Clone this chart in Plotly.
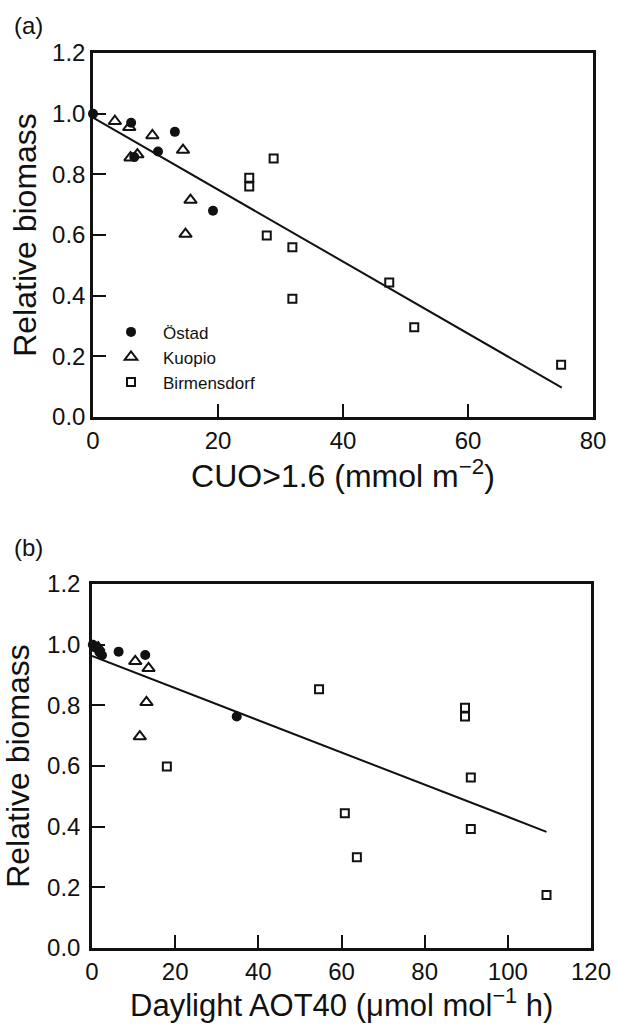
import plotly.graph_objects as go

# ---------------- data: panel (a) ----------------
ostad_a_x = [0, 6.1, 13.1, 10.4, 19.2, 6.6]
ostad_a_y = [1.0, 0.97, 0.94, 0.875, 0.68, 0.857]
kuopio_a_x = [3.5, 5.8, 9.5, 14.4, 6.0, 7.1, 15.6, 14.8]
kuopio_a_y = [0.975, 0.955, 0.928, 0.88, 0.855, 0.865, 0.715, 0.603]
birm_a_x = [28.9, 25.0, 25.0, 27.8, 31.9, 31.9, 47.4, 51.4, 74.9]
birm_a_y = [0.852, 0.789, 0.76, 0.598, 0.56, 0.39, 0.443, 0.296, 0.172]
fit_a_x = [0, 75]
fit_a_y = [0.987, 0.097]

# ---------------- data: panel (b) ----------------
ostad_b_x = [0.2, 1.0, 1.8, 2.4, 6.4, 12.8, 34.8]
ostad_b_y = [1.0, 0.99, 0.975, 0.965, 0.977, 0.966, 0.763]
kuopio_b_x = [1.5, 10.4, 13.6, 13.1, 11.5]
kuopio_b_y = [0.99, 0.945, 0.922, 0.81, 0.697]
birm_b_x = [18.0, 54.6, 89.7, 89.7, 91.1, 60.8, 63.7, 91.1, 109.3]
birm_b_y = [0.598, 0.853, 0.792, 0.763, 0.562, 0.444, 0.299, 0.392, 0.175]
fit_b_x = [0, 109.3]
fit_b_y = [0.963, 0.383]

y_ticks = [0.0, 0.2, 0.4, 0.6, 0.8, 1.0, 1.2]
xa_ticks = [0, 20, 40, 60, 80]
xb_ticks = [0, 20, 40, 60, 80, 100, 120]

FONT = "Liberation Sans, Arial, Helvetica, sans-serif"
INK = "#111111"

circle = dict(symbol="circle", size=10, color=INK, line=dict(width=0))
tri = dict(symbol="triangle-up-open", size=11, color=INK, line=dict(width=2, color=INK))
sq = dict(symbol="square-open", size=8, color=INK, line=dict(width=2, color=INK))

fig = go.Figure()


def panel(ox, oy, kx, ky, bx, by, fx, fy, xa, ya, show):
    fig.add_trace(go.Scatter(x=fx, y=fy, mode="lines", line=dict(color=INK, width=2),
                             xaxis=xa, yaxis=ya, showlegend=False, hoverinfo="skip"))
    fig.add_trace(go.Scatter(x=ox, y=oy, mode="markers", name="Östad", marker=circle,
                             xaxis=xa, yaxis=ya, showlegend=show, cliponaxis=False))
    fig.add_trace(go.Scatter(x=kx, y=ky, mode="markers", name="Kuopio", marker=tri,
                             xaxis=xa, yaxis=ya, showlegend=show, cliponaxis=False))
    fig.add_trace(go.Scatter(x=bx, y=by, mode="markers", name="Birmensdorf", marker=sq,
                             xaxis=xa, yaxis=ya, showlegend=show, cliponaxis=False))


panel(ostad_a_x, ostad_a_y, kuopio_a_x, kuopio_a_y, birm_a_x, birm_a_y, fit_a_x, fit_a_y, "x", "y", True)
panel(ostad_b_x, ostad_b_y, kuopio_b_x, kuopio_b_y, birm_b_x, birm_b_y, fit_b_x, fit_b_y, "x2", "y2", False)


def axis(**kw):
    base = dict(showline=True, linecolor=INK, linewidth=2.5, mirror=True,
                ticks="inside", ticklen=13, tickwidth=2, tickcolor=INK,
                showgrid=False, zeroline=False,
                tickfont=dict(family=FONT, size=24, color=INK))
    base.update(kw)
    return base


def title(text, standoff):
    return dict(text=text, standoff=standoff, font=dict(family=FONT, size=32, color=INK))


fig.update_layout(
    width=620, height=1025,
    margin=dict(l=92, r=27, t=53, b=77),
    paper_bgcolor="white", plot_bgcolor="white",
    font=dict(family=FONT, color=INK),
    showlegend=True,
    xaxis=axis(domain=[0.002, 1], range=[0, 80], tickvals=xa_ticks, anchor="y",
               title=title("CUO>1.6 (mmol m<sup>−2</sup>)", 10)),
    yaxis=axis(domain=[0.5933, 1], range=[0, 1.2], tickvals=y_ticks, tickformat=".1f",
               anchor="x", title=title("Relative biomass", 6)),
    xaxis2=axis(domain=[0, 0.996], range=[0, 120], tickvals=xb_ticks, anchor="y2",
                automargin=False),
    yaxis2=axis(domain=[0, 0.4067], range=[0, 1.2], tickvals=y_ticks, tickformat=".1f",
                anchor="x2", automargin=False, ticklabelstandoff=4,
                title=title("Relative biomass", 10)),
    legend=dict(x=0.014, y=0.708, xanchor="left", yanchor="top",
                bgcolor="rgba(0,0,0,0)", borderwidth=0, itemwidth=54,
                font=dict(family=FONT, size=17, color=INK),
                tracegroupgap=0, itemsizing="trace"),
    annotations=[
        dict(text="(a)", xref="paper", yref="paper", x=-0.16, y=1.031,
             xanchor="left", yanchor="middle", showarrow=False,
             font=dict(family=FONT, size=24, color=INK)),
        dict(text="(b)", xref="paper", yref="paper", x=-0.16, y=0.447,
             xanchor="left", yanchor="middle", showarrow=False,
             font=dict(family=FONT, size=24, color=INK)),
        dict(text="Daylight AOT40 (μmol mol<sup>−1</sup> h)", xref="x2 domain", yref="paper",
             x=0.5, y=-0.0855, xanchor="center", yanchor="bottom", showarrow=False,
             font=dict(family=FONT, size=31, color=INK)),
    ],
)

fig.write_html("out.html")
